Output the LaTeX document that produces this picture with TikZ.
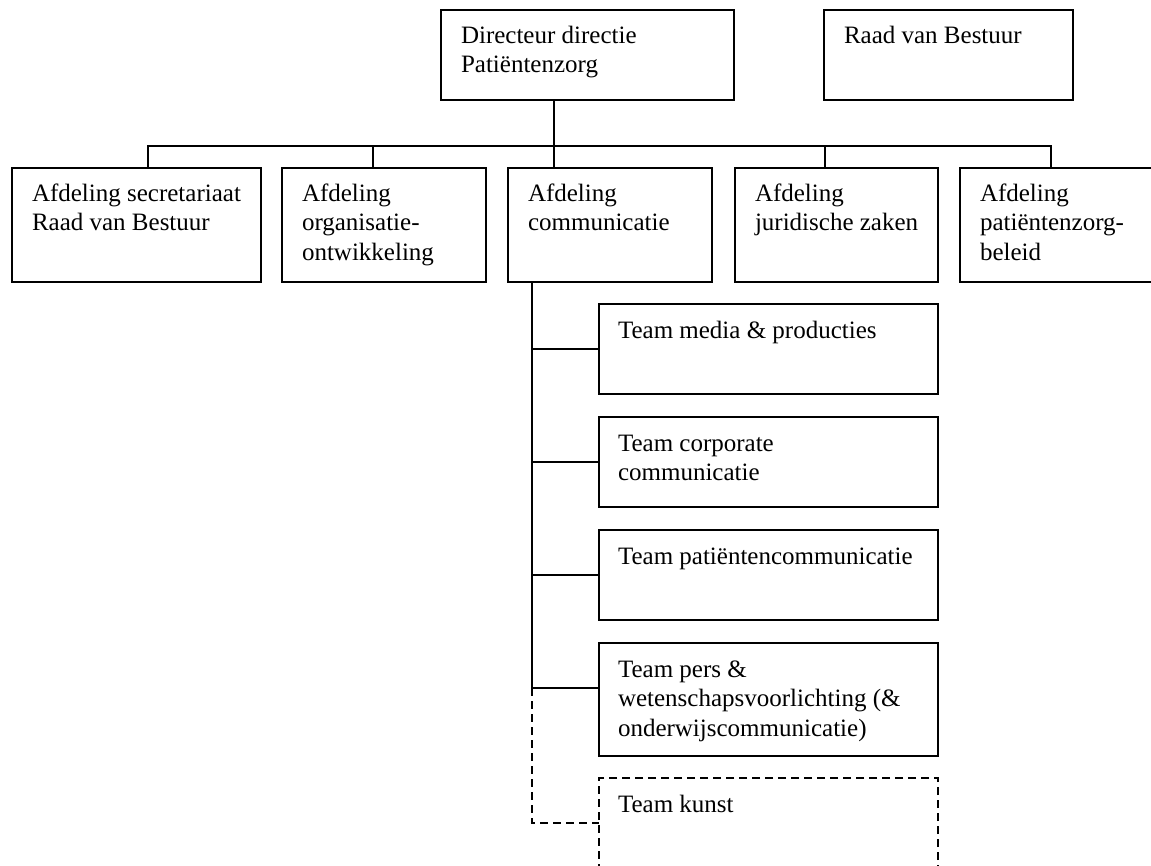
\documentclass[tikz,border=0pt]{standalone}
\usepackage{fontspec}
\setmainfont{Liberation Serif}
\usetikzlibrary{calc}

\tikzset{
  box/.style={draw, line width=1.6pt, rectangle, inner sep=0pt, outer sep=0pt, anchor=north west},
  dbox/.style={box, dash pattern=on 8pt off 5pt},
  txt/.style={anchor=base west, inner sep=0pt, outer sep=0pt,
              font=\fontsize{25pt}{29.5pt}\selectfont},
  link/.style={line width=1.6pt},
  dlink/.style={link, dash pattern=on 8pt off 5pt},
}
\newcommand{\lines}[1]{\parbox[t]{400pt}{#1}}

\begin{document}
\begin{tikzpicture}[x=1pt, y=-1pt]
  \clip (0,0) rectangle (1151,865);
  \fill[white] (0,0) rectangle (1151,865);

  % top level
  \node[box, minimum width=293pt, minimum height=90pt] (dir) at (441,10) {};
  \node[box, minimum width=249pt, minimum height=90pt] (raad) at (824,10) {};

  % departments
  \node[box, minimum width=249pt, minimum height=114pt] (a1) at (12,168) {};
  \node[box, minimum width=204pt, minimum height=114pt] (a2) at (282,168) {};
  \node[box, minimum width=204pt, minimum height=114pt] (a3) at (508,168) {};
  \node[box, minimum width=203pt, minimum height=114pt] (a4) at (735,168) {};
  \node[box, minimum width=215pt, minimum height=114pt] (a5) at (960,168) {};

  % teams of the communication department
  \node[box, minimum width=339pt, minimum height=90pt] (t1) at (599,304) {};
  \node[box, minimum width=339pt, minimum height=90pt] (t2) at (599,417) {};
  \node[box, minimum width=339pt, minimum height=90pt] (t3) at (599,530) {};
  \node[box, minimum width=339pt, minimum height=113pt] (t4) at (599,643) {};
  \node[dbox, minimum width=339pt, minimum height=120pt] (t5) at (599,778) {};

  % labels
  \node[txt] (dir-t)  at ($(dir.north west)+(20,33)$) {\lines{Directeur directie\\Patiëntenzorg}};
  \node[txt] (raad-t) at ($(raad.north west)+(20,33)$) {\lines{Raad van Bestuur}};
  \node[txt] (a1-t) at ($(a1.north west)+(20,33)$) {\lines{Afdeling secretariaat\\Raad van Bestuur}};
  \node[txt] (a2-t) at ($(a2.north west)+(20,33)$) {\lines{Afdeling\\organisatie-\\ontwikkeling}};
  \node[txt] (a3-t) at ($(a3.north west)+(20,33)$) {\lines{Afdeling\\communicatie}};
  \node[txt] (a4-t) at ($(a4.north west)+(20,33)$) {\lines{Afdeling\\juridische zaken}};
  \node[txt] (a5-t) at ($(a5.north west)+(20,33)$) {\lines{Afdeling\\patiëntenzorg-\\beleid}};
  \node[txt] (t1-t) at ($(t1.north west)+(19,34)$) {\lines{Team media \& producties}};
  \node[txt] (t2-t) at ($(t2.north west)+(19,34)$) {\lines{Team corporate\\communicatie}};
  \node[txt] (t3-t) at ($(t3.north west)+(19,34)$) {\lines{Team patiëntencommunicatie}};
  \node[txt] (t4-t) at ($(t4.north west)+(19,34)$) {\lines{Team pers \&\\wetenschapsvoorlichting (\&\\onderwijscommunicatie)}};
  \node[txt] (t5-t) at ($(t5.north west)+(19,34)$) {\lines{Team kunst}};

  % bus under the director
  \coordinate (b1) at (148,146);
  \coordinate (b2) at (373,146);
  \coordinate (b3) at (554,146);
  \coordinate (b4) at (825,146);
  \coordinate (b5) at (1051,146);
  \draw[link] (b3 |- dir.south) -- (b3);
  \draw[link] (b1 |- a1.north) -- (b1) -- (b5) -- (b5 |- a5.north);
  \draw[link] (b2) -- (b2 |- a2.north);
  \draw[link] (b3) -- (b3 |- a3.north);
  \draw[link] (b4) -- (b4 |- a4.north);

  % spine under the communication department
  \coordinate (c) at (532,0);
  \path (t1.north west) ++(0,45) coordinate (k1);
  \path (t2.north west) ++(0,45) coordinate (k2);
  \path (t3.north west) ++(0,45) coordinate (k3);
  \path (t4.north west) ++(0,45) coordinate (k4);
  \path (t5.north west) ++(0,45) coordinate (k5);
  \draw[link] (c |- a3.south) -- (c |- k4) -- (k4);
  \draw[link] (c |- k1) -- (k1);
  \draw[link] (c |- k2) -- (k2);
  \draw[link] (c |- k3) -- (k3);
  \draw[dlink] (c |- k4) -- (c |- k5) -- (k5);
\end{tikzpicture}
\end{document}
